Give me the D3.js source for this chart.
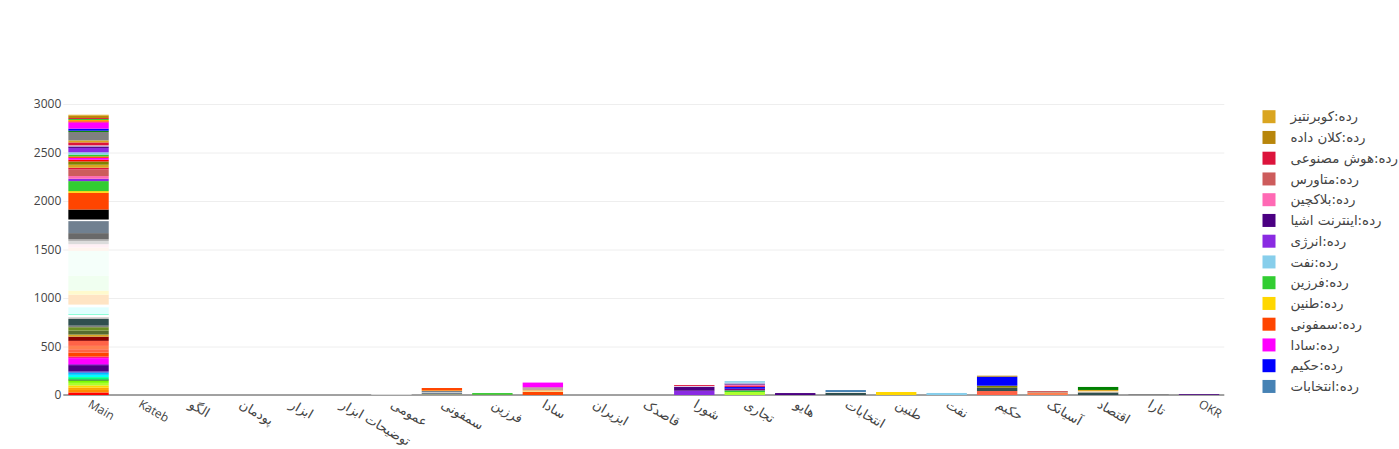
<!DOCTYPE html>
<html>
<head>
<meta charset="utf-8">
<script src="https://cdn.jsdelivr.net/npm/d3@7"></script>
<style>
  html, body { margin: 0; padding: 0; background: #fff; }
  svg { display: block; }
  text { font-family: "Open Sans", verdana, arial, sans-serif; }
</style>
</head>
<body>
<svg id="chart" width="1399" height="449"></svg>
<script>
// ---------------- DATA ----------------
const categories = ["Main","Kateb","الگو","پودمان","ابزار","توضیحات ابزار","عمومی","سمفونی","فرزین","سادا","ایزیران","قاصدک","شورا","تجاری","هایو","انتخابات","طنین","نفت","حکیم","آسیانک","اقتصاد","تارا","OKR"];

// Main bar, segments from bottom to top
const mainColors = ["red","darkorange","orange","gold","greenyellow","lawngreen","darkgreen","springgreen","aqua","deepskyblue","royalblue","indigo","darkviolet","magenta","deeppink","orangered","tomato","coral","tomato","darkred","goldenrod","darkolivegreen","olivedrab","gray","darkslategray","silver","white","aquamarine","lightcyan","white","bisque","lemonchiffon","honeydew","mintcream","seashell","lavenderblush","gainsboro","darkgray","dimgray","slategray","white","black","orangered","gold","limegreen","blueviolet","hotpink","indianred","crimson","goldenrod","olive","red","magenta","orangered","limegreen","skyblue","blueviolet","indigo","lavender","crimson","goldenrod","gray","green","blue","magenta","red","orange","limegreen","crimson","darkgoldenrod","goldenrod"];
const mainValues = [26,26,24,23,26,24,12,23,24,21,13,66,10,62,16,41,35,34,52,44,21,41,35,16,69,18,24,10,69,27,103,41,152,258,34,35,34,18,62,124,16,103,172,18,103,24,28,68,18,31,34,18,18,16,18,24,45,16,10,31,21,87,13,21,65,10,14,10,10,24,10];

// Other bars, segments from bottom to top
const otherCategories = ["عمومی","سمفونی","فرزین","سادا","شورا","تجاری","هایو","انتخابات","طنین","نفت","حکیم","آسیانک","اقتصاد","تارا","OKR"];
const otherColors = [
  ["gainsboro"],
  ["darkkhaki","slategray","lightgray","slategray","orange","orangered"],
  ["orangered","limegreen"],
  ["orangered","khaki","sandybrown","gray","rosybrown","magenta"],
  ["blueviolet","indigo","lavender","crimson"],
  ["greenyellow","limegreen","purple","blue","crimson","hotpink","navy","white","skyblue"],
  ["indigo"],
  ["darkslategray","white","steelblue"],
  ["gold"],
  ["skyblue"],
  ["tomato","darkslategray","olive","blue","darkgoldenrod"],
  ["coral","gray","indianred"],
  ["darkslategray","gray","wheat","goldenrod","green"],
  ["gray"],
  ["indigo"]
];
const otherValues = [
  [10],
  [7,15,7,12,7,24],
  [3,17],
  [34,10,13,10,13,48],
  [44,41,7,10],
  [31,17,17,17,10,17,10,7,17],
  [20],
  [24,7,20],
  [31],
  [21],
  [41,34,21,93,10],
  [27,4,10],
  [24,5,13,10,31],
  [8],
  [8]
];

const yTicks = [0,500,1000,1500,2000,2500,3000];

const legendNames = ["رده:کوبرنتیز","رده:کلان داده","رده:هوش مصنوعی","رده:متاورس","رده:بلاکچین","رده:اینترنت اشیا","رده:انرژی","رده:نفت","رده:فرزین","رده:طنین","رده:سمفونی","رده:سادا","رده:حکیم","رده:انتخابات"];
const legendColors = ["goldenrod","darkgoldenrod","crimson","indianred","hotpink","indigo","blueviolet","skyblue","limegreen","gold","orangered","magenta","blue","steelblue"];

// ---------------- LAYOUT ----------------
const FONT = '"Open Sans", verdana, arial, sans-serif';
const AR_FONT = '"DejaVu Sans", sans-serif';
const AR_SIZE = "13.4px";
const AR_TICK_SIZE = "13px";
const isArabic = s => /[\u0600-\u06FF]/.test(s);
const plotLeft = 63.3, plotRight = 1224.3, plotBottom = 395, yTop3000 = 104;
const svg = d3.select("#chart");

const x = d3.scaleBand().domain(categories).range([plotLeft, plotRight]).paddingInner(0.2).paddingOuter(0.1);
const y = d3.scaleLinear().domain([0, 3000]).range([plotBottom, yTop3000]);

// gridlines
const grid = svg.append("g").attr("transform", `translate(${plotLeft},0)`)
  .call(d3.axisLeft(y).tickValues(yTicks).tickSize(-(plotRight - plotLeft)).tickFormat(""));
grid.select(".domain").remove();
grid.selectAll("line").attr("stroke", "#eee").attr("stroke-width", 1)
  .filter(d => d === 0).remove();

// zero line
svg.append("line").attr("x1", plotLeft).attr("x2", plotRight)
  .attr("y1", y(0)).attr("y2", y(0)).attr("stroke", "#444").attr("stroke-width", 1);

// build stacks
const stacks = [];
stacks.push({cat: "Main", colors: mainColors, values: mainValues});
otherCategories.forEach((c, i) => stacks.push({cat: c, colors: otherColors[i], values: otherValues[i]}));

const segs = [];
stacks.forEach(s => {
  const cum = d3.cumsum(s.values);
  s.values.forEach((v, i) => {
    segs.push({cat: s.cat, color: s.colors[i], y0: cum[i] - v, y1: cum[i]});
  });
});

svg.append("g").selectAll("rect").data(segs).join("rect")
  .attr("x", d => x(d.cat))
  .attr("width", x.bandwidth())
  .attr("y", d => y(d.y1))
  .attr("height", d => y(d.y0) - y(d.y1))
  .attr("fill", d => d.color);

// y axis labels
const yAxis = svg.append("g").attr("transform", `translate(${plotLeft},0)`)
  .call(d3.axisLeft(y).tickValues(yTicks).tickSize(0).tickPadding(2).tickFormat(d3.format("d")));
yAxis.select(".domain").remove();
yAxis.selectAll("text").attr("fill", "#444").style("font-size", "12px")
  .style("font-family", FONT);

// x axis labels
const xAxis = svg.append("g").attr("transform", `translate(0,${plotBottom})`)
  .call(d3.axisBottom(x).tickSize(0).tickFormat(d => d));
xAxis.select(".domain").remove();
xAxis.selectAll("text")
  .attr("fill", "#444")
  .style("font-size", d => isArabic(d) ? AR_TICK_SIZE : "12px")
  .style("font-family", d => isArabic(d) ? AR_FONT : FONT)
  .attr("text-anchor", "start")
  .attr("x", 0).attr("y", 0).attr("dy", "0.71em")
  .attr("transform", "translate(3,4) rotate(30)");

// legend
const lg = svg.append("g");
legendNames.forEach((n, i) => {
  const cy = 116.7 + i * 20.75;
  lg.append("rect").attr("x", 1262.5).attr("y", cy - 6.5).attr("width", 13).attr("height", 13)
    .attr("fill", legendColors[i]);
  lg.append("text").attr("x", 1290.5).attr("y", cy).attr("dy", "0.35em")
    .attr("fill", "#444").style("font-size", AR_SIZE).style("font-family", AR_FONT)
    .text(n);
});
</script>
</body>
</html>
